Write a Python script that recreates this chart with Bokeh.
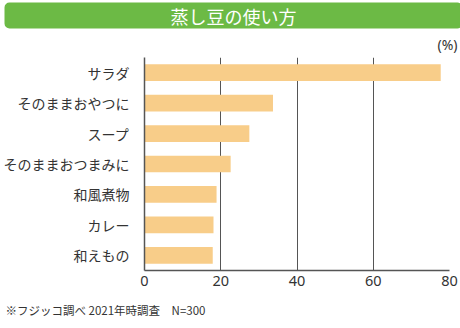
from bokeh.plotting import figure
from bokeh.models import Range1d, FactorRange, FixedTicker, ColumnDataSource, Title
from bokeh.embed import file_html
from bokeh.resources import INLINE

# ---- data ----
categories = ["サラダ", "そのままおやつに", "スープ", "そのままおつまみに", "和風煮物", "カレー", "和えもの"]
values = [77.7, 33.7, 27.5, 22.6, 18.9, 18.1, 17.9]
x_ticks = [0, 20, 40, 60, 80]
title_text = "蒸し豆の使い方"
unit_text = "(%)"
note_text = "※フジッコ調べ 2021年時調査　N=300"

JP = "Noto Sans CJK JP"
TXT = "#333333"
AX = "#555555"

src = ColumnDataSource(dict(cat=categories, val=values))

p = figure(
    width=460, height=328,
    x_range=Range1d(0, 80),
    y_range=FactorRange(factors=list(reversed(categories)), range_padding=0),
    output_backend="svg", toolbar_location=None, title_location=None,
    min_border_left=141, min_border_right=11, min_border_top=0, min_border_bottom=0,
)
p.outline_line_color = None
p.background_fill_color = "white"
p.border_fill_color = "white"

p.hbar(y="cat", right="val", left=0, height=0.55, source=src,
       fill_color="#f8cd89", line_color=None)

# x axis
p.xaxis.ticker = FixedTicker(ticks=x_ticks)
p.xaxis.axis_line_color = AX
p.xaxis.axis_line_width = 1.5
p.xaxis.major_tick_line_color = None
p.xaxis.minor_tick_line_color = None
p.xaxis.major_tick_out = 0
p.xaxis.major_tick_in = 0
p.xaxis.major_label_standoff = 5
p.xaxis.major_label_text_font = "Noto Sans"
p.xaxis.major_label_text_font_size = "14.5px"
p.xaxis.major_label_text_color = TXT

# y axis
p.yaxis.axis_line_color = AX
p.yaxis.axis_line_width = 1.5
p.yaxis.major_tick_line_color = None
p.yaxis.minor_tick_line_color = None
p.yaxis.major_tick_out = 0
p.yaxis.major_tick_in = 0
p.yaxis.major_label_standoff = 15
p.yaxis.major_label_text_font = JP
p.yaxis.major_label_text_font_size = "14px"
p.yaxis.major_label_text_color = TXT

# grid
p.xgrid.ticker = FixedTicker(ticks=x_ticks[1:])
p.xgrid.grid_line_color = AX
p.xgrid.grid_line_width = 1
p.ygrid.grid_line_color = None

# "(%)" unit, just above the frame
p.add_layout(Title(text=unit_text, align="right", offset=-8, text_font="Noto Sans",
                   text_font_size="14px", text_font_style="normal", text_color=TXT,
                   standoff=8), "above")
# green title banner
p.add_layout(Title(text=title_text, align="left", offset=-140, text_color="white",
                   background_fill_color="#6cba45", text_font=JP, text_font_size="18px",
                   text_font_style="normal", padding=[166, 0], border_radius=5,
                   standoff=0), "above")
# footnote
p.add_layout(Title(text=note_text, align="left", offset=-139, text_font=JP,
                   text_font_size="11.5px", text_font_style="normal", text_color=TXT,
                   standoff=22), "below")

open("out.html", "w").write(file_html(p, INLINE))
